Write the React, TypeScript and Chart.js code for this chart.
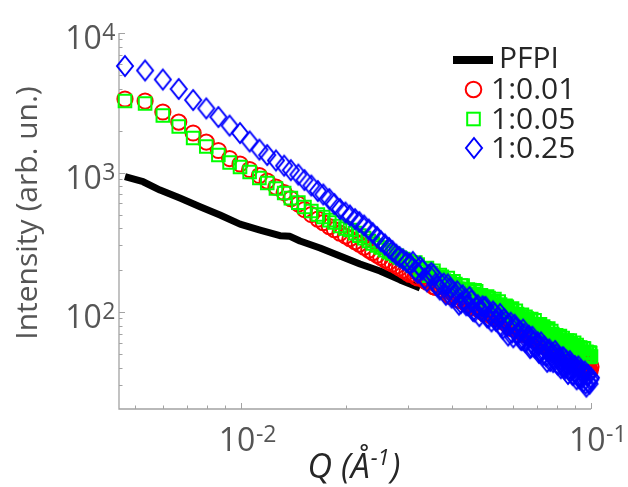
import React, { useEffect, useRef } from "react";
import { Chart, registerables } from "chart.js";

Chart.register(...registerables);

// ---- Data ----
const Q = [
  0.00467, 0.00533, 0.00599, 0.00665, 0.00731, 0.00797, 0.00863, 0.00929, 0.00995, 0.0106,
  0.0113, 0.0119, 0.0126, 0.0133, 0.0139, 0.0146, 0.0152, 0.0159, 0.0166, 0.0172,
  0.0179, 0.0185, 0.0192, 0.0199, 0.0205, 0.0212, 0.0218, 0.0225, 0.0232, 0.0238,
  0.0245, 0.0251, 0.0258, 0.0265, 0.0271, 0.0278, 0.0284, 0.0291, 0.0298, 0.0304,
  0.031, 0.032, 0.033, 0.034, 0.035, 0.036, 0.037, 0.038, 0.039, 0.04,
  0.041, 0.042, 0.043, 0.044, 0.045, 0.046, 0.047, 0.048, 0.049, 0.05,
  0.051, 0.052, 0.053, 0.054, 0.055, 0.056, 0.057, 0.058, 0.059, 0.06,
  0.061, 0.062, 0.063, 0.064, 0.065, 0.066, 0.067, 0.068, 0.069, 0.07,
  0.071, 0.072, 0.073, 0.074, 0.075, 0.076, 0.077, 0.078, 0.079, 0.08,
  0.081, 0.082, 0.083, 0.084, 0.085, 0.086, 0.087, 0.088, 0.089, 0.09,
  0.091, 0.092, 0.093, 0.094, 0.095, 0.096, 0.097, 0.098, 0.099, 0.1,
];

// the high-Q points in between (the measured data are denser there)
const Q_MID = [
  0.0315, 0.0325, 0.0335, 0.0345, 0.0355, 0.0365, 0.0375, 0.0385, 0.0395, 0.0405,
  0.0415, 0.0425, 0.0435, 0.0445, 0.0455, 0.0465, 0.0475, 0.0485, 0.0495, 0.0505,
  0.0515, 0.0525, 0.0535, 0.0545, 0.0555, 0.0565, 0.0575, 0.0585, 0.0595, 0.0605,
  0.0615, 0.0625, 0.0635, 0.0645, 0.0655, 0.0665, 0.0675, 0.0685, 0.0695, 0.0705,
  0.0715, 0.0725, 0.0735, 0.0745, 0.0755, 0.0765, 0.0775, 0.0785, 0.0795, 0.0805,
  0.0815, 0.0825, 0.0835, 0.0845, 0.0855, 0.0865, 0.0875, 0.0885, 0.0895, 0.0905,
  0.0915, 0.0925, 0.0935, 0.0945, 0.0955, 0.0965, 0.0975, 0.0985, 0.0995,
];

const INT_1_001 = [
  3365, 3254, 2715, 2300, 1920, 1654, 1438, 1260, 1151, 1051,
  952, 869, 787, 719, 651, 595, 543, 500, 464, 438,
  410, 390, 368, 351, 336, 320, 307, 292, 278, 267,
  256, 246, 236, 228, 221, 214, 207, 200, 192, 186,
  188, 176, 180, 164, 164, 150, 155, 141, 142, 129,
  132, 121, 125, 115, 118, 110, 112, 103, 105, 99,
  102, 93.6, 96.8, 90.2, 91.8, 85.4, 88.1, 81.3, 83.4, 76.6,
  84.5, 73.9, 76.3, 69.1, 75.6, 69.1, 71.1, 64.1, 69.4, 62.1,
  64.1, 57.3, 62.8, 58.6, 55.7, 60.4, 54.3, 56.7, 50.8, 55.7,
  51.2, 52.4, 48.1, 53.3, 47, 48.7, 44.6, 48.9, 45.3, 46.4,
  42.2, 46.4, 41.9, 43.5, 39.5, 43.5, 40, 41.4, 38, 40.6,
];
const INT_1_001_MID = [
  179, 183, 168, 171, 152, 155, 145, 147, 130, 135,
  123, 129, 118, 119, 108, 115, 106, 108, 97.9, 102,
  95.7, 99, 89.3, 93.7, 87.8, 91, 81.7, 83.6, 76, 82.2,
  76.4, 78.5, 71.5, 76.3, 70.5, 71.1, 65.5, 69.2, 63.4, 65.3,
  59.1, 63.4, 59.2, 59.8, 55.8, 59.3, 54.4, 56.1, 51.4, 54.7,
  51.3, 52, 48.2, 51.9, 47.6, 49.2, 45.6, 48, 43.1, 45.6,
  43.2, 45.7, 41.6, 43.6, 40, 42.7, 40.1, 40.7, 38.1,
];

const INT_1_005 = [
  3254, 3123, 2563, 2136, 1767, 1536, 1335, 1179, 1095, 1008,
  913, 841, 768, 713, 656, 609, 566, 530, 500, 480,
  456, 438, 414, 397, 387, 368, 353, 339, 323, 310,
  300, 290, 278, 269, 263, 254, 246, 240, 232, 226,
  215, 219, 195, 207, 190, 176, 184, 168, 175, 152,
  159, 147, 155, 135, 144, 135, 141, 125, 128, 118,
  126, 117, 124, 109, 113, 102, 111, 102, 104, 93.1,
  102, 91.2, 92.9, 84.6, 92.4, 84.8, 88.4, 79.7, 87.2, 76,
  80.1, 75.5, 78.8, 69.1, 74.2, 68.4, 73.1, 64.1, 66.7, 62.4,
  66.6, 58.6, 65.1, 60.4, 61.8, 56.2, 62.5, 55.9, 57.9, 52.6,
  58, 53.3, 55.7, 50.7, 55.1, 48.6, 51.9, 48.1, 51.2, 48,
];
const INT_1_005_MID = [
  226, 201, 205, 182, 198, 176, 179, 160, 164, 166,
  147, 155, 135, 145, 134, 143, 125, 132, 123, 129,
  113, 120, 111, 119, 104, 108, 109, 97.6, 106, 95.1,
  96.9, 87.4, 95.6, 86.3, 89.8, 81.4, 89, 80.6, 81.5, 74.4,
  81.6, 73.7, 76.4, 69.1, 76.2, 66.9, 69.6, 65.4, 68.1, 60.6,
  67.3, 60.6, 62.1, 57.5, 62.6, 57.6, 59.7, 54.9, 60.3, 53.9,
  55.9, 51.3, 55.3, 51.4, 54.7, 48.8, 51.5, 47.7, 50.8,
];

const INT_1_025 = [
  5800, 5390, 4640, 3970, 3310, 2880, 2500, 2170, 1920, 1670,
  1460, 1335, 1220, 1120, 1040, 967, 884, 807, 737, 696,
  646, 595, 547, 517, 492, 464, 442, 417, 390, 368,
  345, 323, 305, 288, 274, 258, 248, 238, 228, 221,
  229, 191, 201, 166, 191, 160, 145, 160, 158, 127,
  136, 113, 132, 112, 128, 102, 109, 93.5, 110, 109,
  91, 85.7, 98, 87, 97, 76.3, 86, 68, 84, 66,
  78, 70, 63.4, 75, 61, 67, 55.2, 66.6, 56, 59.5,
  51, 60.6, 49.4, 55, 44, 54, 48.5, 43.8, 52.7, 42.8,
  47.3, 39.6, 47.5, 40.2, 45, 36, 44.5, 38.4, 35.4, 41,
  33, 40.8, 33.7, 37.3, 31.6, 37.5, 29.2, 35.4, 30.6, 33.9,
];
const INT_1_025_MID = [
  199, 211, 174, 185, 185, 153, 157, 133, 148, 130,
  141, 116, 123, 112, 121, 101, 112, 102, 108, 91.8,
  96.2, 101, 86.6, 91.7, 78.9, 89.3, 79.2, 80.8, 71.3, 81.2,
  69.6, 73.3, 63, 69.8, 63.4, 67.6, 56.1, 62, 55.8, 60.6,
  51.8, 54.7, 56.9, 48.4, 52.5, 44.6, 50.9, 46.1, 49.8, 42,
  46.1, 42.2, 47.1, 39.4, 42.4, 38.8, 42.4, 35.7, 39.9, 36.9,
  39, 33.6, 38.4, 33.9, 35.7, 30.7, 35.5, 31.3, 32.9,
];

const PFPI_Q = [
  0.00467, 0.00526, 0.00588, 0.0067, 0.00765, 0.00872, 0.00995, 0.01135, 0.01294,
  0.01382, 0.01476, 0.01684, 0.0192, 0.0219, 0.02498, 0.02849, 0.03045, 0.0325,
];
const PFPI_I = [933, 859, 749, 656, 569, 496, 427, 387, 353, 349, 323, 288, 252, 221, 197, 170, 159, 149];

const SERIES_LABELS = ["PFPI", "1:0.01", "1:0.05", "1:0.25"];
const X_TICKS = [0.01, 0.1];
const X_TICK_EXP = ["-2", "-1"];
const Y_TICKS = [100, 1000, 10000];
const Y_TICK_EXP = ["2", "3", "4"];
const X_MIN = 0.00449;
const X_MAX = 0.1;
const Y_MIN = 20.2;
const Y_MAX = 10000;

// ---- Styles ----
const FONT = '"Open Sans", "DejaVu Sans", sans-serif';
const TICK_COLOR = "#555555";
const AXIS_COLOR = "#a3a3a3";
const TEXT_COLOR = "#262626";
const RED = "#ff0000";
const GREEN = "#00ff00";
const BLUE = "#0000ff";

function makeDiamond(w: number, h: number, color: string, lw: number) {
  const c = document.createElement("canvas");
  let cw = Math.ceil(w + lw * 2 + 2);
  let ch = Math.ceil(h + lw * 2 + 2);
  if (cw % 2) cw++;
  if (ch % 2) ch++;
  c.width = cw;
  c.height = ch;
  const ctx = c.getContext("2d")!;
  const cx = cw / 2;
  const cy = ch / 2;
  ctx.strokeStyle = color;
  ctx.lineWidth = lw;
  ctx.lineJoin = "miter";
  ctx.beginPath();
  ctx.moveTo(cx, cy - h / 2);
  ctx.lineTo(cx + w / 2, cy);
  ctx.lineTo(cx, cy + h / 2);
  ctx.lineTo(cx - w / 2, cy);
  ctx.closePath();
  ctx.stroke();
  return c;
}

function drawPow(ctx: CanvasRenderingContext2D, exp: string, x: number, baseline: number, mode: "right" | "left") {
  ctx.font = `32px ${FONT}`;
  const w10 = ctx.measureText("10").width;
  ctx.font = `23px ${FONT}`;
  const wExp = ctx.measureText(exp).width;
  const left = mode === "right" ? x - (w10 + wExp) : x;
  ctx.textAlign = "left";
  ctx.textBaseline = "alphabetic";
  ctx.font = `32px ${FONT}`;
  ctx.fillText("10", left, baseline);
  ctx.font = `23px ${FONT}`;
  ctx.fillText(exp, left + w10 + 0.5, baseline - 9);
}

const axesPlugin = {
  id: "matlabAxes",
  beforeDatasetsDraw(chart: any) {
    const { ctx, chartArea: a, scales } = chart;
    const xs = scales.x;
    const ys = scales.y;
    ctx.save();
    ctx.strokeStyle = AXIS_COLOR;
    ctx.lineWidth = 1.3;
    ctx.beginPath();
    ctx.moveTo(a.left, a.top);
    ctx.lineTo(a.left, a.bottom);
    ctx.lineTo(a.right, a.bottom);
    ctx.stroke();
    ctx.lineWidth = 1;
    ctx.beginPath();
    for (let k = Math.floor(Math.log10(X_MIN)); k <= Math.ceil(Math.log10(X_MAX)); k++) {
      for (let m = 1; m <= 9; m++) {
        const v = m * Math.pow(10, k);
        if (v < X_MIN * (1 - 1e-9) || v > X_MAX * (1 + 1e-9)) continue;
        const px = Math.round(xs.getPixelForValue(v)) + 0.5;
        const len = m === 1 ? 6 : 3.5;
        ctx.moveTo(px, a.bottom);
        ctx.lineTo(px, a.bottom - len);
      }
    }
    for (let k = Math.floor(Math.log10(Y_MIN)); k <= Math.ceil(Math.log10(Y_MAX)); k++) {
      for (let m = 1; m <= 9; m++) {
        const v = m * Math.pow(10, k);
        if (v < Y_MIN * (1 - 1e-9) || v > Y_MAX * (1 + 1e-9)) continue;
        const py = Math.round(ys.getPixelForValue(v)) + 0.5;
        const len = m === 1 ? 6 : 3.5;
        ctx.moveTo(a.left, py);
        ctx.lineTo(a.left + len, py);
      }
    }
    ctx.stroke();
    ctx.restore();
  },
  afterDraw(chart: any, _args: any, opts: any) {
    const { ctx, chartArea: a, scales } = chart;
    const xs = scales.x;
    const ys = scales.y;
    ctx.save();
    ctx.fillStyle = TICK_COLOR;
    Y_TICKS.forEach((v, i) => {
      const py = ys.getPixelForValue(v);
      drawPow(ctx, Y_TICK_EXP[i], a.left - 4, py + 16, "right");
    });
    X_TICKS.forEach((v, i) => {
      const px = xs.getPixelForValue(v);
      drawPow(ctx, X_TICK_EXP[i], px - 22, a.bottom + 42, "left");
    });
    // y title
    ctx.save();
    ctx.translate(37, 213);
    ctx.rotate(-Math.PI / 2);
    ctx.font = `30px ${FONT}`;
    ctx.textAlign = "center";
    ctx.textBaseline = "alphabetic";
    ctx.fillStyle = TICK_COLOR;
    ctx.fillText("Intensity (arb. un.)", 0, 0);
    ctx.restore();
    // x title: Q (Å^-1)
    ctx.fillStyle = TEXT_COLOR;
    const big = `italic 34px ${FONT}`;
    const small = `italic 22px ${FONT}`;
    ctx.font = big;
    const p1 = "Q (Å";
    const w1 = ctx.measureText(p1).width;
    const w3 = ctx.measureText(")").width;
    ctx.font = small;
    const w2 = ctx.measureText("-1").width;
    const cx = (a.left + a.right) / 2 - 2;
    const x0 = cx - (w1 + w2 + w3) / 2;
    const base = a.bottom + 69;
    ctx.textAlign = "left";
    ctx.font = big;
    ctx.fillText(p1, x0, base);
    ctx.font = small;
    ctx.fillText("-1", x0 + w1 + 1, base - 13);
    ctx.font = big;
    ctx.fillText(")", x0 + w1 + w2 + 2, base);

    // legend
    const diamond = opts.diamond as HTMLCanvasElement;
    const mx = 473.5;
    ctx.fillStyle = "#000";
    ctx.fillRect(453, 56, 40, 8);
    ctx.lineWidth = 2;
    ctx.strokeStyle = RED;
    ctx.beginPath();
    ctx.arc(mx, 89.5, 7.8, 0, Math.PI * 2);
    ctx.stroke();
    ctx.strokeStyle = GREEN;
    ctx.strokeRect(mx - 6.3, 119 - 6.3, 12.6, 12.6);
    ctx.drawImage(diamond, Math.round(mx - diamond.width / 2), Math.round(148 - diamond.height / 2));
    ctx.fillStyle = TEXT_COLOR;
    ctx.font = `30px ${FONT}`;
    ctx.textAlign = "left";
    ctx.fillText(SERIES_LABELS[0], 499, 68);
    ctx.fillText(SERIES_LABELS[1], 491, 99);
    ctx.fillText(SERIES_LABELS[2], 491, 129);
    ctx.fillText(SERIES_LABELS[3], 491, 158);
    ctx.restore();
  },
};

export default function App() {
  const ref = useRef<HTMLCanvasElement>(null);
  useEffect(() => {
    const canvas = ref.current!;
    const diamond = makeDiamond(16, 20, BLUE, 2);
    const toPts = (xs: number[], ys: number[]) => xs.map((x, i) => ({ x, y: ys[i] }));
    const qAll = Q.concat(Q_MID);
    const chart = new Chart(canvas, {
      type: "scatter",
      data: {
        datasets: [
          {
            label: SERIES_LABELS[3],
            data: toPts(qAll, INT_1_025.concat(INT_1_025_MID)),
            showLine: false,
            pointStyle: diamond as any,
            pointRadius: 9,
            pointBorderColor: BLUE,
            pointBackgroundColor: "rgba(0,0,0,0)",
            clip: false as any,
          },
          {
            label: SERIES_LABELS[2],
            data: toPts(qAll, INT_1_005.concat(INT_1_005_MID)),
            showLine: false,
            pointStyle: "rect",
            pointRadius: 8.9,
            pointBorderWidth: 2,
            pointBorderColor: GREEN,
            pointBackgroundColor: "rgba(0,0,0,0)",
            clip: false as any,
          },
          {
            label: SERIES_LABELS[1],
            data: toPts(qAll, INT_1_001.concat(INT_1_001_MID)),
            showLine: false,
            pointStyle: "circle",
            pointRadius: 7.6,
            pointBorderWidth: 2,
            pointBorderColor: RED,
            pointBackgroundColor: "rgba(0,0,0,0)",
            clip: false as any,
          },
          {
            label: SERIES_LABELS[0],
            data: toPts(PFPI_Q, PFPI_I),
            showLine: true,
            borderColor: "#000000",
            borderWidth: 7,
            pointRadius: 0,
            tension: 0,
            borderJoinStyle: "round",
            borderCapStyle: "butt",
            clip: false as any,
          },
        ],
      },
      options: {
        animation: false,
        responsive: false,
        devicePixelRatio: 1,
        layout: { padding: { left: 119, right: 37, top: 33, bottom: 78 } },
        scales: {
          x: { type: "logarithmic", min: X_MIN, max: X_MAX, display: false },
          y: { type: "logarithmic", min: Y_MIN, max: Y_MAX, display: false },
        },
        plugins: {
          legend: { display: false },
          tooltip: { enabled: false },
          matlabAxes: { diamond },
        } as any,
        events: [],
      },
      plugins: [axesPlugin],
    });
    return () => chart.destroy();
  }, []);
  return (
    <div style={{ position: "fixed", left: 0, top: 0, width: 628, height: 487, background: "#fff" }}>
      <canvas ref={ref} width={628} height={487} style={{ display: "block", width: 628, height: 487 }} />
    </div>
  );
}
